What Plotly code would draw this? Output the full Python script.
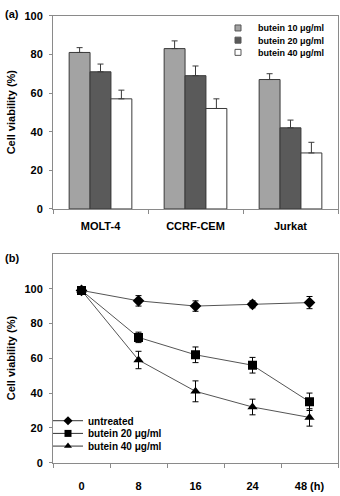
import plotly.graph_objects as go

# ---- Panel (a) data ----
cell_lines = ["MOLT-4", "CCRF-CEM", "Jurkat"]
bar_names = ["butein 10 μg/ml", "butein 20 μg/ml", "butein 40 μg/ml"]
bar_vals_10 = [81, 83, 67]
bar_err_10 = [2.5, 4, 3]
bar_vals_20 = [71, 69, 42]
bar_err_20 = [4, 5, 4]
bar_vals_40 = [57, 52, 29]
bar_err_40 = [4.5, 5, 5.5]
bar_colors = ["#a3a3a3", "#5a5a5a", "#ffffff"]

# ---- Panel (b) data ----
hours = ["0", "8", "16", "24", "48"]
hour_labels = ["0", "8", "16", "24", "48 (h)"]
line_names = ["untreated", "butein 20 μg/ml", "butein 40 μg/ml"]
untreated = [99, 93, 90, 91, 92]
untreated_err = [0, 3, 3, 2, 3.5]
butein20 = [99, 72, 62, 56, 35]
butein20_err = [0, 3, 4.5, 4.5, 5]
butein40 = [99, 59, 41, 32, 26]
butein40_err = [0, 5, 6, 4.5, 5]
line_symbols = ["diamond", "square", "triangle-up"]

W, H = 340, 496
FONT = "Liberation Sans, Arial, sans-serif"

def px_x(p):
    return p / W

def px_y(p):
    return 1 - p / H

fig = go.Figure()

bar_sets = [(bar_vals_10, bar_err_10), (bar_vals_20, bar_err_20), (bar_vals_40, bar_err_40)]
legend_ids = ["legend", "legend2", "legend3"]
for i, (vals, errs) in enumerate(bar_sets):
    fig.add_trace(go.Bar(
        x=cell_lines, y=vals, name=bar_names[i],
        marker=dict(color=bar_colors[i], line=dict(color="#3a3a3a", width=1)),
        error_y=dict(type="data", array=errs, arrayminus=[0] * len(errs), symmetric=False,
                     color="#3a3a3a", thickness=1, width=3),
        xaxis="x", yaxis="y", showlegend=False,
    ))
    # legend entry (small square)
    fig.add_trace(go.Scatter(
        x=[None], y=[None], mode="markers", name=bar_names[i],
        marker=dict(symbol="square", size=6, color=bar_colors[i], line=dict(color="#555", width=1)),
        xaxis="x", yaxis="y", legend=legend_ids[i], showlegend=True,
    ))

line_sets = [(untreated, untreated_err), (butein20, butein20_err), (butein40, butein40_err)]
line_legends = ["legend4", "legend5", "legend6"]
for i in [0, 2, 1]:
    vals, errs = line_sets[i]
    fig.add_trace(go.Scatter(
        x=hours, y=vals, name=line_names[i], mode="lines+markers",
        line=dict(color="#555555", width=1),
        marker=dict(symbol=line_symbols[i], size=9, color="black"),
        error_y=dict(type="data", array=errs, color="black", thickness=1, width=3),
        xaxis="x2", yaxis="y2", showlegend=False,
    ))
for i in range(3):
    fig.add_trace(go.Scatter(
        x=[None], y=[None], name=line_names[i], mode="lines+markers",
        line=dict(color="#333333", width=1),
        marker=dict(symbol=line_symbols[i], size=7, color="black"),
        xaxis="x2", yaxis="y2", legend=line_legends[i], showlegend=True,
    ))

tickfont = dict(family=FONT, size=11, color="black", weight="bold")
axis_common = dict(showline=True, linecolor="#8a8a8a", linewidth=1, mirror=True,
                   showgrid=False, zeroline=False, ticks="outside", ticklen=3,
                   tickcolor="#8a8a8a", tickfont=tickfont)

legend_common = dict(bgcolor="rgba(0,0,0,0)", borderwidth=0, xanchor="left", yanchor="middle",
                     font=dict(family=FONT, size=9, color="black", weight="bold"),
                     itemwidth=30, tracegroupgap=0)

layout = dict(
    width=W, height=H, margin=dict(l=0, r=0, t=0, b=0),
    paper_bgcolor="white", plot_bgcolor="white",
    barmode="group", bargap=0.34, bargroupgap=0,
    xaxis=dict(axis_common, domain=[px_x(53), px_x(338)], anchor="y",
               tickson="boundaries", ticklen=4, ticklabelstandoff=7, range=[-0.5, 2.5]),
    yaxis=dict(axis_common, domain=[px_y(208), px_y(10)], anchor="x",
               range=[0, 100], dtick=20, ticklabelstandoff=4),
    xaxis2=dict(axis_common, domain=[px_x(53), px_x(338)], anchor="y2",
                tickson="boundaries", ticklen=4, ticklabelstandoff=13, range=[-0.5, 4.5],
                tickvals=hours, ticktext=hour_labels, type="category"),
    yaxis2=dict(axis_common, domain=[px_y(468), px_y(254)], anchor="x2",
                range=[0, 120], tickvals=[0, 20, 40, 60, 80, 100], ticklabelstandoff=4),
    showlegend=True,
)
ly_top = [22.5, 35, 47.5]
for i, lid in enumerate(legend_ids):
    layout[lid] = dict(legend_common, x=px_x(218), y=px_y(ly_top[i]))
ly_bot = [425, 438, 451]
for i, lid in enumerate(line_legends):
    layout[lid] = dict(legend_common, x=px_x(48), y=px_y(ly_bot[i]),
                       font=dict(family=FONT, size=10, color="black", weight="bold"))

fig.update_layout(**layout)

annots = [
    dict(text="(a)", x=px_x(3), y=px_y(8)),
    dict(text="(b)", x=px_x(3), y=px_y(258)),
]
for a in annots:
    fig.add_annotation(xref="paper", yref="paper", xanchor="left", yanchor="middle",
                       showarrow=False, text=a["text"], x=a["x"], y=a["y"],
                       font=dict(family=FONT, size=11, color="black", weight="bold"))
for yc in [109, 361]:
    fig.add_annotation(xref="paper", yref="paper", xanchor="center", yanchor="middle",
                       showarrow=False, text="Cell viability (%)", textangle=-90,
                       x=px_x(11), y=px_y(yc),
                       font=dict(family=FONT, size=11, color="black", weight="bold"))

fig.write_html("out.html")
